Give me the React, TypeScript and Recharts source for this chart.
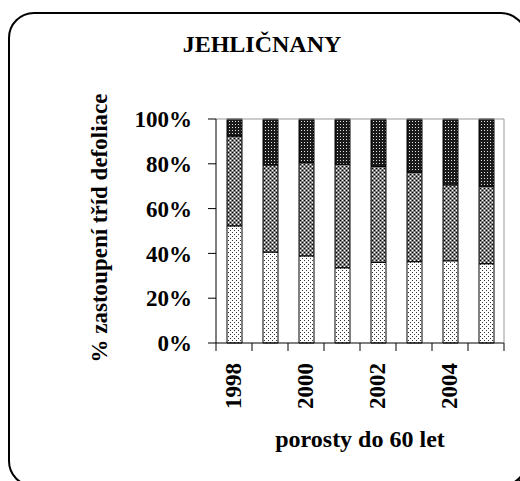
import { BarChart, Bar, XAxis, YAxis, ReferenceLine, Label } from 'recharts';

// defoliation classes, share in % of stand (conifers up to 60 years)
const years = ['1998', '1999', '2000', '2001', '2002', '2003', '2004', '2005'];
const class01 = [52.3, 40.6, 38.9, 33.6, 36.0, 36.3, 36.7, 35.4];
const class2 = [40.1, 38.9, 41.6, 46.2, 42.8, 39.9, 33.9, 34.6];
const class34 = [7.6, 20.5, 19.5, 20.2, 21.2, 23.8, 29.4, 30.0];
const yTicks = [0, 20, 40, 60, 80, 100];

const data = years.map((year, i) => ({
  year,
  c01: class01[i],
  c2: class2[i],
  c34: class34[i],
}));

const W = 520;
const H = 481;
const PLOT_LEFT = 216;
const PLOT_RIGHT = 504;
const BAND = (PLOT_RIGHT - PLOT_LEFT) / years.length;
const font = 'Liberation Serif';

const YearTick = (props: any) => {
  const { x, y, index } = props;
  const last = index === years.length - 1;
  return (
    <g>
      <line x1={x - BAND / 2} x2={x - BAND / 2} y1={y} y2={y + 8} stroke="#000" />
      {last && <line x1={x + BAND / 2} x2={x + BAND / 2} y1={y} y2={y + 8} stroke="#000" />}
      {index % 2 === 0 && (
        <text
          transform={`translate(${x - 1},${y + 20}) rotate(-90)`}
          textAnchor="end"
          dominantBaseline="central"
          fontFamily={font}
          fontWeight="bold"
          fontSize={23}
          fill="#000"
        >
          {props.payload.value}
        </text>
      )}
    </g>
  );
};

export default function App() {
  return (
    <div style={{ position: 'fixed', left: 0, top: 0, width: W, height: H, overflow: 'hidden', background: '#fff' }}>
      <div
        style={{
          position: 'absolute',
          left: 8,
          top: 12,
          width: 515,
          height: 471,
          border: '2px solid #000',
          borderRadius: 26,
          boxShadow: '4px 4px 0 #000',
        }}
      />
      <div style={{ position: 'absolute', left: 0, top: 0 }}>
        <BarChart width={W} height={H} data={data} margin={{ top: 119, right: 15, bottom: 0, left: 136 }}>
          <defs>
            <pattern id="dots" width="4" height="4" patternUnits="userSpaceOnUse">
              <rect width="4" height="4" fill="#fff" />
              <rect x="0" y="0" width="1" height="1" fill="#333" />
              <rect x="2" y="2" width="1" height="1" fill="#333" />
            </pattern>
            <pattern id="mid" width="4" height="4" patternUnits="userSpaceOnUse">
              <rect width="4" height="4" fill="#808080" />
              <rect x="0" y="0" width="1" height="1" fill="#000" />
              <rect x="2" y="2" width="1" height="1" fill="#000" />
              <rect x="2" y="0" width="1" height="1" fill="#fff" />
              <rect x="0" y="2" width="1" height="1" fill="#fff" />
            </pattern>
            <pattern id="dark" width="3" height="3" patternUnits="userSpaceOnUse">
              <rect width="3" height="3" fill="#1a1a1a" />
              <rect x="1" y="1" width="1" height="1" fill="#e0e0e0" />
            </pattern>
          </defs>
          <XAxis
            dataKey="year"
            height={138}
            interval={0}
            tickLine={false}
            tickSize={0}
            tickMargin={0}
            stroke="#000"
            tick={<YearTick />}
          >
            <Label
              content={() => (
                <text x={360} y={447} textAnchor="middle" fontFamily={font} fontWeight="bold" fontSize={24} fill="#000">
                  porosty do 60 let
                </text>
              )}
            />
          </XAxis>
          <YAxis
            width={80}
            domain={[0, 100]}
            ticks={yTicks}
            tickFormatter={(v) => `${v}%`}
            tickSize={8}
            tickMargin={16}
            stroke="#000"
            tick={{ fill: '#000', fontFamily: font, fontWeight: 'bold', fontSize: 23 }}
          >
            <Label
              content={() => (
                <text
                  transform="translate(107,228) rotate(-90)"
                  textAnchor="middle"
                  fontFamily={font}
                  fontWeight="bold"
                  fontSize={23}
                  fill="#000"
                >
                  % zastoupení tříd defoliace
                </text>
              )}
            />
          </YAxis>
          <YAxis yAxisId="frame" orientation="right" width={1} tick={false} tickLine={false} stroke="#999" domain={[0, 100]} />
          <ReferenceLine y={100} stroke="#999" />
          <Bar dataKey="c01" stackId="a" barSize={15} fill="url(#dots)" stroke="#000" strokeWidth={1} isAnimationActive={false} />
          <Bar dataKey="c2" stackId="a" barSize={15} fill="url(#mid)" stroke="#000" strokeWidth={1} isAnimationActive={false} />
          <Bar dataKey="c34" stackId="a" barSize={15} fill="url(#dark)" stroke="#000" strokeWidth={1} isAnimationActive={false} />
        </BarChart>
      </div>
      <svg style={{ position: 'absolute', left: 0, top: 0 }} width={W} height={70}>
        <text x={262} y={52} textAnchor="middle" fontFamily={font} fontWeight="bold" fontSize={24} fill="#000">
          JEHLIČNANY
        </text>
      </svg>
    </div>
  );
}
